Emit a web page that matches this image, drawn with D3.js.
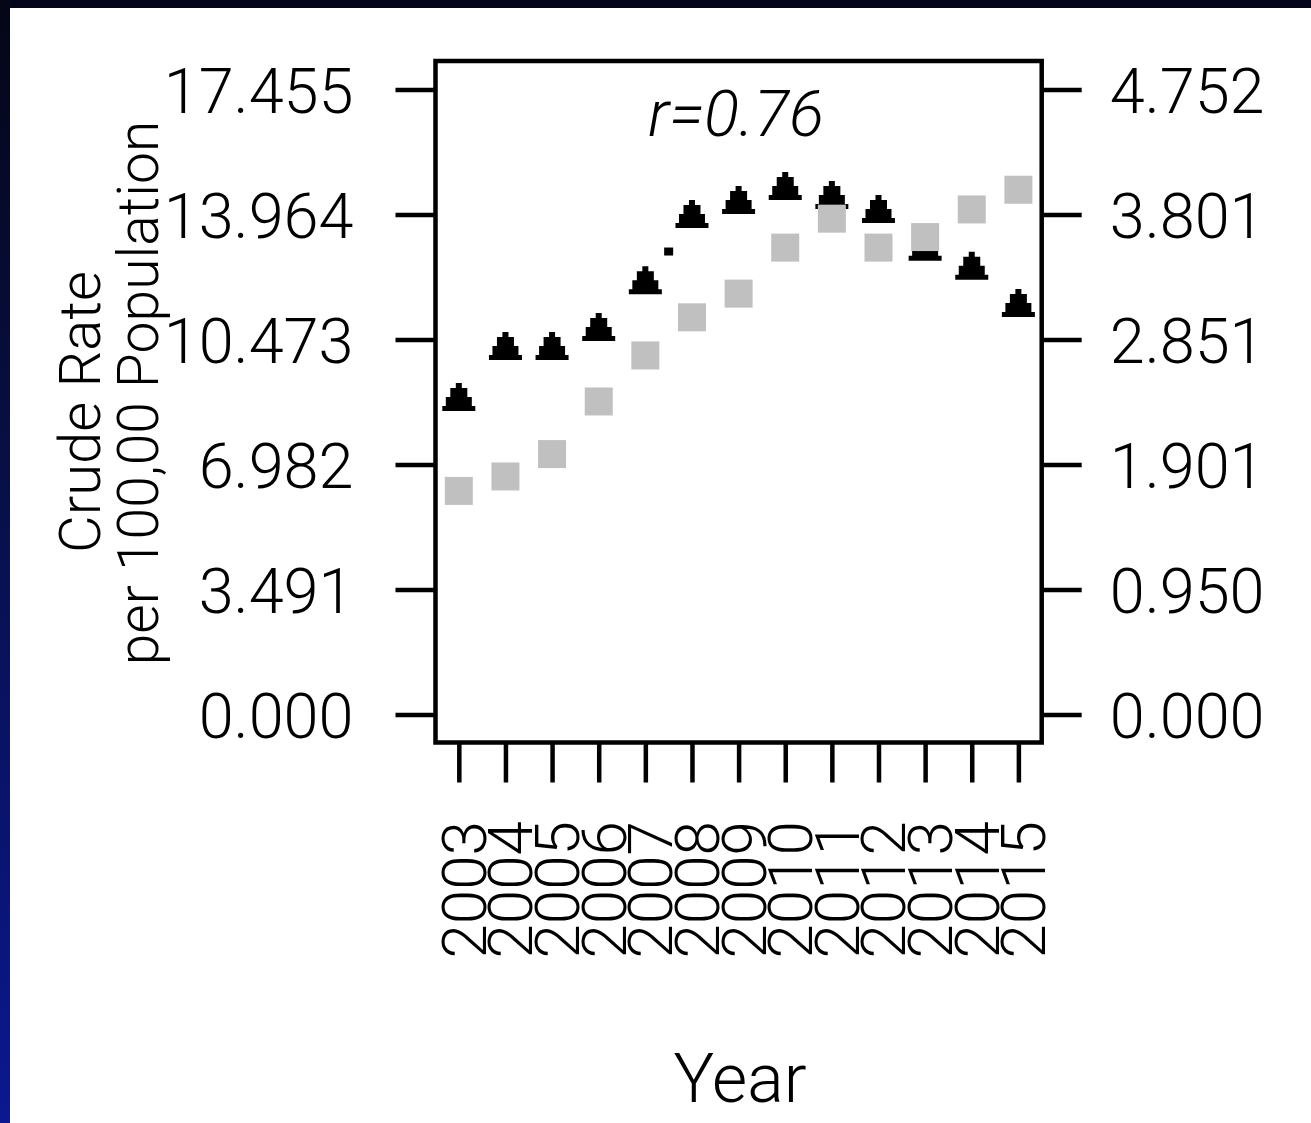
<!DOCTYPE html>
<html>
<head>
<meta charset="utf-8">
<script src="https://cdn.jsdelivr.net/npm/d3@7"></script>
<style>
  html, body { margin: 0; padding: 0; background: #ffffff; }
  svg { display: block; }
  text { font-family: Roboto, "Liberation Sans", Arial, sans-serif; font-weight: 300; fill: #000; }
</style>
</head>
<body>
<svg id="chart" width="1311" height="1123"></svg>
<script>
// ---- data ----
const years = [2003, 2004, 2005, 2006, 2007, 2008, 2009, 2010, 2011, 2012, 2013, 2014, 2015];
const yearLabels = ["2003","2004","2005","2006","2007","2008","2009","2010","2011","2012","2013","2014","2015"];
// black triangles (left axis)
const triangleValues = [8.87, 10.29, 10.29, 10.82, 12.13, 13.98, 14.37, 14.76, 14.51, 14.12, 13.06, 12.53, 11.49];
// grey squares (right axis)
const squareValues = [1.70, 1.81, 1.98, 2.38, 2.73, 3.02, 3.20, 3.55, 3.77, 3.55, 3.63, 3.84, 3.99];
// small stray dot in the original image
const strayYears = [2007.5];
const strayValues = [12.93];
const leftTicks = [0, 3.491, 6.982, 10.473, 13.964, 17.455];
const leftTickLabels = ["0.000", "3.491", "6.982", "10.473", "13.964", "17.455"];
const rightTicks = [0, 0.950, 1.901, 2.851, 3.801, 4.752];
const rightTickLabels = ["0.000", "0.950", "1.901", "2.851", "3.801", "4.752"];
const corrLabel = "r=0.76";
const yTitleLines = ["Crude Rate", "per 100,00 Population"];
const xTitle = "Year";

// ---- layout ----
const svg = d3.select("#chart");
const W = 1311, H = 1123;
const plot = { left: 435.5, right: 1041.7, top: 61, bottom: 742.5 };

// frame background
const defs = svg.append("defs");
const grad = defs.append("linearGradient").attr("id", "leftBand")
  .attr("x1", 0).attr("y1", 0).attr("x2", 0).attr("y2", 1);
grad.append("stop").attr("offset", "0%").attr("stop-color", "#050616");
grad.append("stop").attr("offset", "45%").attr("stop-color", "#08104a");
grad.append("stop").attr("offset", "100%").attr("stop-color", "#0b1890");
svg.append("rect").attr("x", 0).attr("y", 0).attr("width", W).attr("height", H).attr("fill", "#ffffff");
svg.append("rect").attr("x", 0).attr("y", 0).attr("width", W).attr("height", 8).attr("fill", "#03061a");
svg.append("rect").attr("x", 0).attr("y", 0).attr("width", 10).attr("height", H).attr("fill", "url(#leftBand)");

// scales
const x = d3.scaleLinear().domain([2002.5, 2015.5]).range([plot.left, plot.right]);
const yL = d3.scaleLinear().domain([0, 17.455]).range([714.5, 89.5]);
const yR = d3.scaleLinear().domain([0, 4.752]).range([714.5, 89.5]);

// left axis
const axL = svg.append("g").attr("transform", `translate(${plot.left},0)`)
  .call(d3.axisLeft(yL).tickValues(leftTicks).tickSize(40).tickPadding(42)
    .tickFormat((d, i) => leftTickLabels[i]));
// right axis
const axR = svg.append("g").attr("transform", `translate(${plot.right},0)`)
  .call(d3.axisRight(yR).tickValues(rightTicks).tickSize(40).tickPadding(28)
    .tickFormat((d, i) => rightTickLabels[i]));
[axL, axR].forEach(a => {
  a.select(".domain").remove();
  a.selectAll(".tick line").attr("stroke", "#000").attr("stroke-width", 4.5);
  a.selectAll(".tick text").attr("font-size", 63).attr("dy", "0.36em")
    .attr("font-family", "Roboto, 'Liberation Sans', Arial, sans-serif").attr("font-weight", 300).attr("fill", "#000");
});

// bottom axis
const axB = svg.append("g").attr("transform", `translate(0,${plot.bottom})`)
  .call(d3.axisBottom(x).tickValues(years).tickSize(40).tickFormat(""));
axB.select(".domain").remove();
axB.selectAll(".tick line").attr("stroke", "#000").attr("stroke-width", 4.5);

// rotated year labels
svg.append("g").selectAll("text").data(years).join("text")
  .attr("transform", d => `translate(${x(d)},821) rotate(-90)`)
  .attr("text-anchor", "end")
  .attr("dy", 27)
  .attr("font-size", 62)
  .text((d, i) => yearLabels[i]);

// plot frame
svg.append("rect")
  .attr("x", plot.left).attr("y", plot.top)
  .attr("width", plot.right - plot.left).attr("height", plot.bottom - plot.top)
  .attr("fill", "none").attr("stroke", "#000").attr("stroke-width", 4.5);

// correlation label
svg.append("text").attr("x", 736).attr("y", 136).attr("text-anchor", "middle")
  .attr("font-size", 65).attr("font-style", "italic").text(corrLabel);

// stray dot
svg.append("g").selectAll("rect").data(strayYears).join("rect")
  .attr("x", (d) => x(d) - 4.5).attr("y", (d, i) => yL(strayValues[i]) - 4)
  .attr("width", 9).attr("height", 8).attr("fill", "#000");

// triangles (stepped pixel look)
const triPath = "M-3,-14H3V-9H8.5V0H13V9H16.5V14H-16.5V9H-13V0H-8.5V-9H-3Z";
svg.append("g").selectAll("path").data(years).join("path")
  .attr("transform", (d, i) => `translate(${x(d)},${yL(triangleValues[i])})`)
  .attr("d", triPath).attr("fill", "#000");

// squares
svg.append("g").selectAll("rect").data(years).join("rect")
  .attr("x", d => x(d) - 14).attr("y", (d, i) => yR(squareValues[i]) - 14)
  .attr("width", 28).attr("height", 28).attr("fill", "#c0c0c0");

// y axis title (two rotated lines)
svg.append("text").attr("transform", "translate(100,412) rotate(-90)")
  .attr("text-anchor", "middle").attr("font-size", 58).text(yTitleLines[0]);
svg.append("text").attr("transform", "translate(158,393) rotate(-90)")
  .attr("text-anchor", "middle").attr("font-size", 57).text(yTitleLines[1]);

// x axis title
svg.append("text").attr("x", 740).attr("y", 1102).attr("text-anchor", "middle")
  .attr("font-size", 68).text(xTitle);
</script>
</body>
</html>
